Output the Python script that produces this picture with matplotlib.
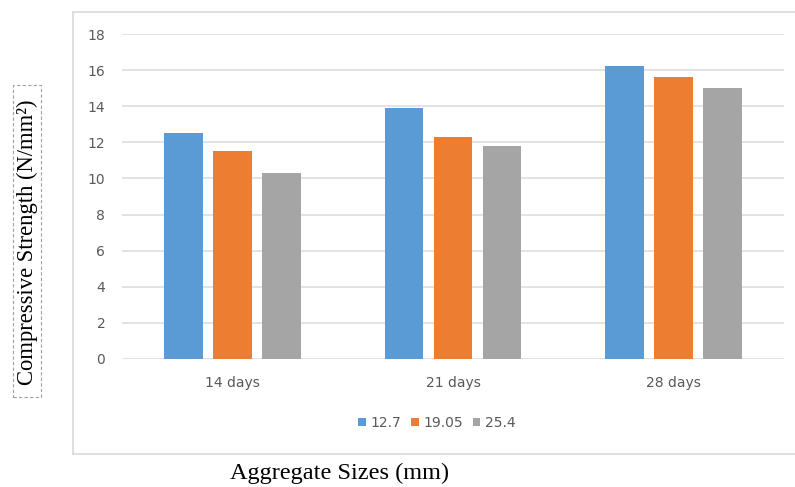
import matplotlib
matplotlib.use("Agg")
import matplotlib.pyplot as plt
from matplotlib.patches import Rectangle, Patch
from matplotlib.lines import Line2D
import numpy as np

# Compressive strength (N/mm²) by curing age and aggregate size
categories = ["14 days", "21 days", "28 days"]
series_names = ["12.7", "19.05", "25.4"]
strength_127 = [12.5, 13.9, 16.25]
strength_1905 = [11.5, 12.3, 15.6]
strength_254 = [10.3, 11.8, 15.0]
y_ticks = [0, 2, 4, 6, 8, 10, 12, 14, 16, 18]

colors = ["#5B9BD5", "#ED7D31", "#A5A5A5"]
tick_color = "#595959"
grid_color = "#DEDEDE"

W, H = 795, 487
fig = plt.figure(figsize=(W / 100, H / 100), dpi=100)

def fx(px):
    return px / W

def fy(py):
    return 1 - py / H

ax = fig.add_axes([fx(122), fy(359), fx(784) - fx(122), fy(34) - fy(359)])

x = np.arange(len(categories))
step = 0.222
width = 0.174
for i, (vals, c) in enumerate(zip([strength_127, strength_1905, strength_254], colors)):
    ax.bar(x + (i - 1) * step, vals, width=width, color=c, zorder=3,
           label=series_names[i])

ax.set_xlim(-0.5, len(categories) - 0.5)
ax.set_ylim(0, 18)
ax.set_yticks(y_ticks)
ax.set_xticks(x)
ax.set_xticklabels(categories)
ax.yaxis.grid(True, color=grid_color, linewidth=1.2, zorder=0)
for s in ax.spines.values():
    s.set_visible(False)
ax.tick_params(axis="both", length=0, labelsize=10, colors=tick_color)
ax.tick_params(axis="y", pad=12)
ax.tick_params(axis="x", pad=12)

# legend below the plot
handles = [Patch(facecolor=c, edgecolor="none") for c in colors]
fig.legend(handles, series_names, loc="center", bbox_to_anchor=(fx(437), fy(423)),
           ncol=3, frameon=False, fontsize=10, labelcolor=tick_color,
           handlelength=0.55, handleheight=0.55, handletextpad=0.35,
           columnspacing=0.7)

# outer chart border
border_color = "#D9D9D9"
fig.add_artist(Line2D([fx(73), fx(73)], [fy(12), fy(454)], color=border_color,
                      linewidth=1.2, transform=fig.transFigure))
fig.add_artist(Line2D([fx(73), 1.0], [fy(12), fy(12)], color=border_color,
                      linewidth=1.2, transform=fig.transFigure))
fig.add_artist(Line2D([fx(73), 1.0], [fy(454), fy(454)], color=border_color,
                      linewidth=1.2, transform=fig.transFigure))

# axis titles
fig.text(fx(340), fy(473), "Aggregate Sizes (mm)", family="Liberation Serif",
         fontsize=17.5, ha="center", va="center", color="black")
fig.text(fx(27), fy(242), "Compressive Strength (N/mm²)", family="Liberation Serif",
         fontsize=16.3, ha="center", va="center", rotation=90, color="black")
fig.add_artist(Rectangle((fx(13), fy(397)), fx(41) - fx(13), fy(85) - fy(397),
                         transform=fig.transFigure, fill=False,
                         edgecolor="#A0A0A0", linestyle=(0, (3, 2)), linewidth=0.8))

fig.savefig("out.png", dpi=100)
